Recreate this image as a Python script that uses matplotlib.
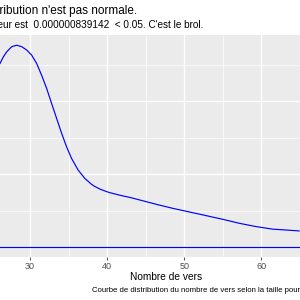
import numpy as np
import matplotlib
matplotlib.use('Agg')
from matplotlib import pyplot as plt

plt.rcParams['font.family'] = ['Liberation Sans', 'DejaVu Sans']

# Courbe de densité (nombre de vers -> densité)
nb_vers = [26.12, 26.55, 26.99, 27.64, 28.28, 28.93, 29.57, 30.22, 30.87, 31.51,
           32.16, 32.80, 33.45, 34.10, 34.74, 35.39, 36.24, 37.11, 37.97, 38.40,
           39.04, 39.91, 40.34, 41.63, 42.93, 44.21, 46.37, 48.51, 50.67, 52.83,
           54.97, 57.13, 59.29, 61.43, 63.59, 64.88]
densite = [0.0503, 0.0521, 0.0535, 0.0549, 0.0553, 0.0549, 0.0540, 0.0526, 0.0503, 0.0471,
           0.0435, 0.0394, 0.0353, 0.0312, 0.0275, 0.0243, 0.0211, 0.0188, 0.0172, 0.0166,
           0.0159, 0.0152, 0.0149, 0.0142, 0.0136, 0.0129, 0.0117, 0.0106, 0.0096, 0.0086,
           0.0076, 0.0065, 0.0056, 0.0049, 0.0046, 0.0044]
x_ticks = [30, 40, 50, 60]

titre = "La distribution n'est pas normale."
sous_titre = "La p-valeur est  0.000000839142  < 0.05. C'est le brol."
legende = "Courbe de distribution du nombre de vers selon la taille pour les"

fig = plt.figure(figsize=(3, 3), dpi=100)
ax = fig.add_axes([0, 43/300, 1, 222/300])
ax.set_facecolor('#EBEBEB')

ax.plot(nb_vers, densite, color='blue', lw=0.85)
ax.axhline(0, color='blue', lw=0.85)

ax.set_xlim(26.12, 64.88)
ax.set_ylim(-0.00274, 0.0581)

ax.set_xticks(x_ticks)
ax.set_xticks([35, 45, 55, 65], minor=True)
ax.set_yticks([0, 0.02, 0.04])
ax.set_yticks([0.01, 0.03, 0.05], minor=True)
ax.grid(which='major', color='white', lw=1.0)
ax.grid(which='minor', color='white', lw=0.5)
ax.set_axisbelow(True)
for s in ax.spines.values():
    s.set_visible(False)
ax.tick_params(axis='x', which='major', length=2.2, width=0.6, color='#333333',
               labelsize=6.5, labelcolor='#4D4D4D', pad=1.5)
ax.tick_params(axis='x', which='minor', length=0)
ax.tick_params(axis='y', which='both', length=0, labelleft=False)

fig.text(137/300, 1 - 11/300, titre, ha='right', va='center', fontsize=8.5, color='black')
fig.text(203/300, 1 - 24.5/300, sous_titre, ha='right', va='center', fontsize=7.2, color='black')
fig.text(166/300, 1 - 277/300, 'Nombre de vers', ha='center', va='center', fontsize=7.3)
fig.text(92/300, 1 - 290.5/300, legende, ha='left', va='center', fontsize=5.6)

fig.savefig('out.png', dpi=100)
